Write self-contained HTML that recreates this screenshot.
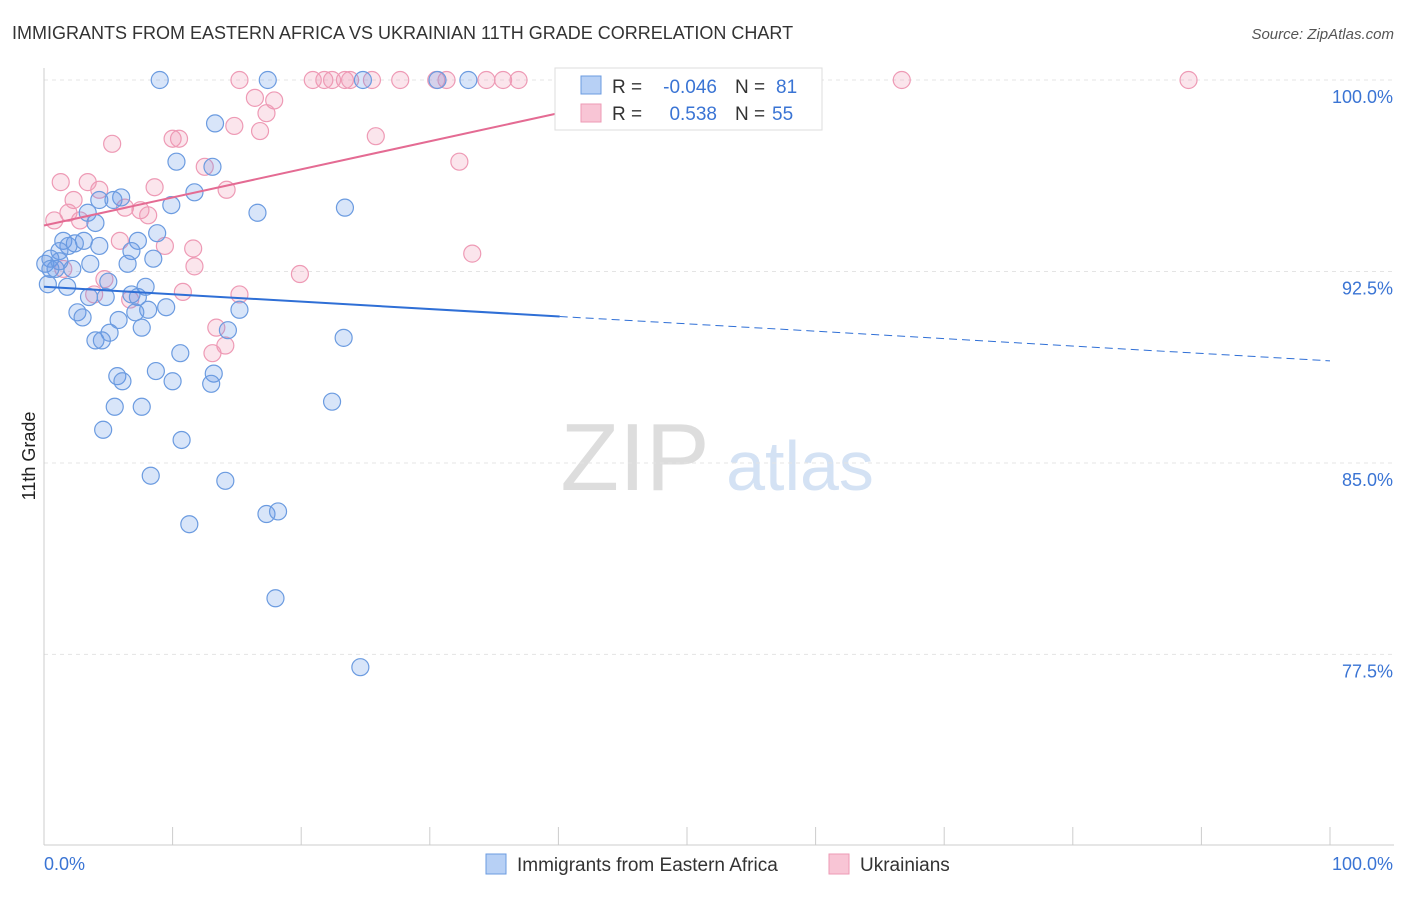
<!DOCTYPE html>
<html><head><meta charset="utf-8"><style>
body{margin:0;background:#fff;font-family:"Liberation Sans",sans-serif}
svg text{font-family:"Liberation Sans",sans-serif}
</style></head><body>
<svg id="chart" width="1406" height="892" xmlns="http://www.w3.org/2000/svg">
<text x="12" y="39" font-size="18" fill="#333">IMMIGRANTS FROM EASTERN AFRICA VS UKRAINIAN 11TH GRADE CORRELATION CHART</text>
<text x="1394" y="39" font-size="15" fill="#555" text-anchor="end" font-style="italic">Source: ZipAtlas.com</text>
<text x="35" y="456" font-size="18" fill="#222" text-anchor="middle" transform="rotate(-90 35 456)">11th Grade</text>
<g>
<text x="635" y="490" font-size="96" fill="#ddd" text-anchor="middle" font-family="Liberation Serif">ZIP</text>
<text x="800" y="490" font-size="70" fill="#d4e2f4" text-anchor="middle">atlas</text>
</g>
<g id="grid"></g><g id="axes"></g><g id="marks"></g>
<g>
<rect x="555" y="68" width="267" height="62" fill="#fff" stroke="#ddd"/>
<rect x="581" y="76" width="20" height="18" fill="#b7d0f5" stroke="#6b9be0"/>
<text x="612" y="93" font-size="19" fill="#333">R =</text>
<text x="717" y="93" font-size="19" fill="#3a74d4" text-anchor="end">-0.046</text>
<text x="735" y="93" font-size="19" fill="#333">N =</text>
<text x="776" y="93" font-size="19" fill="#3a74d4">81</text>
<rect x="581" y="104" width="20" height="18" fill="#f8c5d5" stroke="#ee9ab5"/>
<text x="612" y="120" font-size="19" fill="#333">R =</text>
<text x="717" y="120" font-size="19" fill="#3a74d4" text-anchor="end">0.538</text>
<text x="735" y="120" font-size="19" fill="#333">N =</text>
<text x="772" y="120" font-size="19" fill="#3a74d4">55</text>
</g>
<g>
<rect x="486" y="854" width="20" height="20" fill="#b7d0f5" stroke="#6b9be0"/>
<text x="517" y="871" font-size="19" fill="#333">Immigrants from Eastern Africa</text>
<rect x="829" y="854" width="20" height="20" fill="#f8c5d5" stroke="#ee9ab5"/>
<text x="860" y="871" font-size="19" fill="#333">Ukrainians</text>
</g>
</svg>
<script>
const blueX=[9.0,17.4,24.8,30.6,33.0,13.3,10.3,13.1,11.7,9.9,6.0,4.3,5.4,16.6,23.4,3.4,4.0,8.8,7.3,4.3,3.1,1.5,2.4,1.9,1.2,6.8,8.5,0.5,0.1,0.9,3.6,2.2,6.5,5.0,7.9,1.8,3.5,4.8,6.8,7.3,9.5,15.2,8.1,2.6,3.0,5.8,7.1,7.6,5.1,4.0,4.5,14.3,23.3,10.6,8.7,13.2,5.7,6.1,10.0,13.0,5.5,7.6,22.4,4.6,10.7,8.3,14.1,11.3,17.3,18.2,18.0,24.6,0.5,0.3,1.2];
const blueY=[100,100,100,100,100,98.3,96.8,96.6,95.6,95.1,95.4,95.3,95.3,94.8,95.0,94.8,94.4,94.0,93.7,93.5,93.7,93.7,93.6,93.5,93.3,93.3,93.0,93.0,92.8,92.6,92.8,92.6,92.8,92.1,91.9,91.9,91.5,91.5,91.6,91.5,91.1,91.0,91.0,90.9,90.7,90.6,90.9,90.3,90.1,89.8,89.8,90.2,89.9,89.3,88.6,88.5,88.4,88.2,88.2,88.1,87.2,87.2,87.4,86.3,85.9,84.5,84.3,82.6,83.0,83.1,79.7,77.0,92.6,92.0,92.9];
const pinkX=[15.2,20.9,21.8,22.4,23.4,23.8,25.5,27.7,30.5,31.3,34.4,35.7,36.9,47.5,66.7,89.0,16.4,17.9,17.3,5.3,10.0,10.5,14.8,16.8,25.8,32.3,12.5,1.3,3.4,4.3,8.6,14.2,2.3,6.3,7.5,8.1,1.9,0.8,2.8,5.9,9.4,11.6,33.3,11.7,19.9,1.5,4.7,10.8,15.2,3.9,6.7,13.4,14.1,13.1];
const pinkY=[100,100,100,100,100,100,100,100,100,100,100,100,100,100,100,100,99.3,99.2,98.7,97.5,97.7,97.7,98.2,98.0,97.8,96.8,96.6,96.0,96.0,95.7,95.8,95.7,95.3,95.0,94.9,94.7,94.8,94.5,94.5,93.7,93.5,93.4,93.2,92.7,92.4,92.6,92.2,91.7,91.6,91.6,91.4,90.3,89.6,89.3];
const yTicks=[100,92.5,85,77.5];
const yTickLabels=["100.0%","92.5%","85.0%","77.5%"];
const blueTrend=[91.9,89.0]; // y at x=0, x=100
const blueSolidEnd=40.1;
const pinkTrend=[94.3,99.8]; const pinkEnd=50;

const NS="http://www.w3.org/2000/svg";
const sx=v=>44+v*12.86, sy=v=>80+(100-v)*25.53;
function mk(t,a,p){const e=document.createElementNS(NS,t);for(const k in a)e.setAttribute(k,a[k]);p.appendChild(e);return e;}
const grid=document.getElementById('grid'),axes=document.getElementById('axes'),marks=document.getElementById('marks');
yTicks.forEach((v,i)=>{
 const l=mk('line',{x1:44,x2:1394,y1:sy(v),y2:sy(v),stroke:'#e4e4e4','stroke-dasharray':'4 4'},grid);
 
 
 const t=mk('text',{x:1393,y:sy(v)+23,'font-size':18,fill:'#3a74d4','text-anchor':'end'},axes);
 t.textContent=yTickLabels[i];
 
 
});
const ya=mk('line',{x1:44,x2:44,y1:68,y2:845,stroke:'#ccc'},axes);


const xa=mk('line',{x1:44,x2:1394,y1:845,y2:845,stroke:'#ccc'},axes);


for(let i=0;i<=10;i++){const tk=mk('line',{x1:sx(i*10),x2:sx(i*10),y1:827,y2:845,stroke:'#ccc'},axes);
 
 }
const x0=mk('text',{x:44,y:870,'font-size':18,fill:'#3a74d4'},axes);x0.textContent='0.0%';


const x1=mk('text',{x:1393,y:870,'font-size':18,fill:'#3a74d4','text-anchor':'end'},axes);x1.textContent='100.0%';


function pts(X,Y,fill,stroke,name){X.forEach((x,i)=>{const c=mk('circle',{cx:sx(x),cy:sy(Y[i]),r:8.5,fill:fill,stroke:stroke,'stroke-width':1.2},marks);
 
 });}
pts(pinkX,pinkY,'rgba(240,150,180,0.25)','#ee9ab5','point-ukrainian');
pts(blueX,blueY,'rgba(100,150,230,0.25)','#6b9be0','point-eastern-africa');
const by=x=>blueTrend[0]+(blueTrend[1]-blueTrend[0])*x/100;
const bl=mk('line',{x1:sx(0),y1:sy(by(0)),x2:sx(blueSolidEnd),y2:sy(by(blueSolidEnd)),stroke:'#2f6fd6','stroke-width':2},marks);


const bd=mk('line',{x1:sx(blueSolidEnd),y1:sy(by(blueSolidEnd)),x2:sx(100),y2:sy(by(100)),stroke:'#2f6fd6','stroke-width':1,'stroke-dasharray':'8 5'},marks);


const pl=mk('line',{x1:sx(0),y1:sy(pinkTrend[0]),x2:sx(pinkEnd),y2:sy(pinkTrend[1]),stroke:'#e46b93','stroke-width':2},marks);


</script>
</body></html>
